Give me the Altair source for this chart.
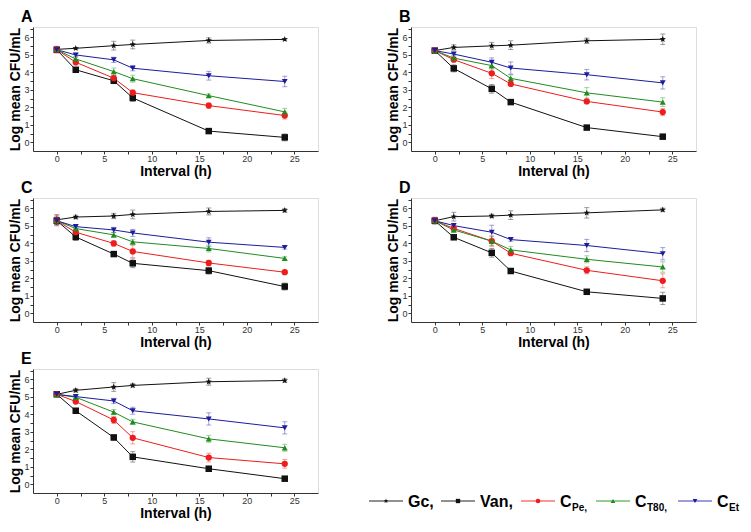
import math
import altair as alt
import pandas as pd

hours = [0, 2, 6, 8, 16, 24]
series = ["Gc", "Van", "CPe", "CT80", "CEt"]

# Panel A
a_vals = {
    "Gc":   [5.32, 5.38, 5.53, 5.60, 5.83, 5.89],
    "Van":  [5.30, 4.15, 3.52, 2.54, 0.64, 0.28],
    "CPe":  [5.30, 4.58, 3.67, 2.84, 2.10, 1.53],
    "CT80": [5.30, 4.77, 4.05, 3.64, 2.67, 1.74],
    "CEt":  [5.30, 5.00, 4.72, 4.24, 3.81, 3.48],
}
a_errs = {
    "Gc":   [0.10, 0.05, 0.25, 0.25, 0.15, 0.05],
    "Van":  [0.10, 0.10, 0.10, 0.20, 0.10, 0.20],
    "CPe":  [0.20, 0.15, 0.15, 0.15, 0.15, 0.20],
    "CT80": [0.10, 0.10, 0.20, 0.20, 0.10, 0.20],
    "CEt":  [0.10, 0.10, 0.15, 0.15, 0.25, 0.30],
}
# Panel B
b_vals = {
    "Gc":   [5.25, 5.43, 5.52, 5.56, 5.81, 5.90],
    "Van":  [5.25, 4.23, 3.06, 2.30, 0.84, 0.32],
    "CPe":  [5.25, 4.73, 3.95, 3.34, 2.34, 1.73],
    "CT80": [5.25, 4.82, 4.39, 3.66, 2.83, 2.30],
    "CEt":  [5.25, 5.05, 4.58, 4.25, 3.87, 3.40],
}
b_errs = {
    "Gc":   [0.10, 0.15, 0.20, 0.25, 0.15, 0.30],
    "Van":  [0.10, 0.20, 0.25, 0.10, 0.10, 0.10],
    "CPe":  [0.10, 0.10, 0.30, 0.10, 0.10, 0.20],
    "CT80": [0.10, 0.10, 0.20, 0.20, 0.30, 0.25],
    "CEt":  [0.10, 0.10, 0.25, 0.35, 0.30, 0.35],
}
# Panel C
c_vals = {
    "Gc":   [5.35, 5.51, 5.57, 5.66, 5.83, 5.89],
    "Van":  [5.30, 4.37, 3.39, 2.86, 2.44, 1.53],
    "CPe":  [5.30, 4.64, 4.00, 3.54, 2.88, 2.35],
    "CT80": [5.30, 4.85, 4.49, 4.09, 3.71, 3.14],
    "CEt":  [5.30, 4.96, 4.77, 4.60, 4.07, 3.77],
}
c_errs = {
    "Gc":   [0.30, 0.10, 0.15, 0.25, 0.20, 0.10],
    "Van":  [0.20, 0.20, 0.10, 0.25, 0.20, 0.20],
    "CPe":  [0.30, 0.15, 0.15, 0.35, 0.15, 0.10],
    "CT80": [0.20, 0.10, 0.15, 0.15, 0.20, 0.10],
    "CEt":  [0.20, 0.10, 0.15, 0.20, 0.25, 0.10],
}
# Panel D
d_vals = {
    "Gc":   [5.30, 5.53, 5.57, 5.62, 5.75, 5.92],
    "Van":  [5.30, 4.35, 3.46, 2.42, 1.23, 0.85],
    "CPe":  [5.30, 4.86, 4.13, 3.44, 2.46, 1.86],
    "CT80": [5.30, 4.77, 4.13, 3.63, 3.09, 2.65],
    "CEt":  [5.30, 5.02, 4.64, 4.22, 3.88, 3.41],
}
d_errs = {
    "Gc":   [0.20, 0.25, 0.10, 0.25, 0.30, 0.10],
    "Van":  [0.10, 0.10, 0.25, 0.10, 0.10, 0.35],
    "CPe":  [0.10, 0.10, 0.30, 0.15, 0.20, 0.40],
    "CT80": [0.10, 0.15, 0.25, 0.20, 0.20, 0.30],
    "CEt":  [0.10, 0.10, 0.40, 0.10, 0.35, 0.35],
}
# Panel E
e_vals = {
    "Gc":   [5.15, 5.38, 5.57, 5.66, 5.87, 5.94],
    "Van":  [5.15, 4.21, 2.68, 1.57, 0.89, 0.32],
    "CPe":  [5.15, 4.74, 3.68, 2.66, 1.53, 1.17],
    "CT80": [5.15, 4.98, 4.13, 3.57, 2.60, 2.09],
    "CEt":  [5.15, 5.02, 4.77, 4.21, 3.74, 3.23],
}
e_errs = {
    "Gc":   [0.10, 0.10, 0.25, 0.10, 0.20, 0.10],
    "Van":  [0.10, 0.05, 0.15, 0.30, 0.10, 0.05],
    "CPe":  [0.10, 0.10, 0.20, 0.35, 0.25, 0.25],
    "CT80": [0.10, 0.10, 0.15, 0.15, 0.20, 0.20],
    "CEt":  [0.10, 0.10, 0.15, 0.20, 0.35, 0.35],
}

x_ticks = [0, 2.5, 5, 7.5, 10, 12.5, 15, 17.5, 20, 22.5, 25]
y_ticks = [0, 0.5, 1, 1.5, 2, 2.5, 3, 3.5, 4, 4.5, 5, 5.5, 6, 6.5]

# styling
colors = ["#111111", "#111111", "#ee1c1c", "#1f8c1f", "#1c1c9c"]
line_colors = ["#222222", "#222222", "#f03030", "#2a9a2a", "#3a3ab8"]
FONT = "Liberation Sans"


def star_path(r_in=0.42):
    pts = []
    for k in range(10):
        r = 1.0 if k % 2 == 0 else r_in
        ang = -math.pi / 2 + k * math.pi / 5
        pts.append(f"{r * math.cos(ang):.3f},{r * math.sin(ang):.3f}")
    return "M" + " L".join(pts) + " Z"


STAR = star_path()
shapes = [STAR, "square", "circle", "triangle-up", "triangle-down"]
sizes = [45, 34, 40, 42, 42]

W, H = 285, 124

x_axis = alt.Axis(
    title="Interval (h)", values=x_ticks,
    labelExpr="datum.value % 5 === 0 ? format(datum.value, 'd') : ''",
    grid=False, tickSize=3, labelFontSize=9, labelPadding=0,
    labelFont=FONT, labelColor="#333333", titleFont=FONT,
    titleFontSize=14, titleFontWeight="bold", titlePadding=1,
    domainColor="#333333", tickColor="#333333", titleColor="#000000",
    labelOverlap=False,
)
y_axis = alt.Axis(
    title="Log mean CFU/mL", values=y_ticks,
    labelExpr="datum.value % 1 === 0 ? format(datum.value, 'd') : ''",
    grid=False, tickSize=3, labelFontSize=9, labelPadding=1,
    labelFont=FONT, labelColor="#333333", titleFont=FONT,
    titleFontSize=14, titleFontWeight="bold", titlePadding=1,
    domainColor="#333333", tickColor="#333333", titleColor="#000000",
    labelOverlap=False,
)
x_scale = alt.Scale(domain=[-2.5, 27.5], nice=False, zero=False)
y_scale = alt.Scale(domain=[-0.5, 6.6], nice=False, zero=False)


def panel(label, vals, errs):
    rows = []
    for s in series:
        for h, v, e in zip(hours, vals[s], errs[s]):
            rows.append({"series": s, "h": h, "v": v, "lo": v - e, "hi": v + e})
    df = pd.DataFrame(rows)
    base = alt.Chart(df)
    X = alt.X("h:Q", scale=x_scale, axis=x_axis)
    col = alt.Color("series:N", scale=alt.Scale(domain=series, range=colors), legend=None)
    err = base.mark_rule(strokeWidth=1, opacity=0.4).encode(
        x=X, y=alt.Y("lo:Q", scale=y_scale, axis=y_axis), y2="hi:Q", color=col)
    cap_hi = base.mark_tick(orient="horizontal", size=5, thickness=1, opacity=0.4).encode(
        x=X, y=alt.Y("hi:Q", scale=y_scale, axis=y_axis), color=col)
    cap_lo = base.mark_tick(orient="horizontal", size=5, thickness=1, opacity=0.4).encode(
        x=X, y=alt.Y("lo:Q", scale=y_scale, axis=y_axis), color=col)
    line = base.mark_line(strokeWidth=1).encode(
        x=X, y=alt.Y("v:Q", scale=y_scale, axis=y_axis), color=col, order="h:Q")
    pts = base.mark_point(filled=True, opacity=1, strokeWidth=0).encode(
        x=X, y=alt.Y("v:Q", scale=y_scale, axis=y_axis), color=col,
        shape=alt.Shape("series:N", scale=alt.Scale(domain=series, range=shapes), legend=None),
        size=alt.Size("series:N", scale=alt.Scale(domain=series, range=sizes), legend=None))
    return alt.layer(err, cap_hi, cap_lo, line, pts).properties(
        width=W, height=H,
        title=alt.TitleParams(label, anchor="start", frame="group", fontSize=16,
                              fontWeight="bold", font=FONT, dx=-12, offset=0,
                              color="#000000"))


# legend (drawn to the right of panel E)
leg_labels = ["Gc,", "Van,", "C", "C", "C"]
leg_subs = ["", "", "Pe,", "T80,", "Et"]
LEG_Y = 132
leg_x0 = [336, 408, 488, 563, 645]


def legend_layers():
    one = pd.DataFrame({"k": [0]})
    layers = []
    for i, s in enumerate(series):
        x0 = leg_x0[i]
        lc = alt.Chart(one).mark_rule(strokeWidth=1, color=line_colors[i]).encode(
            x=alt.value(x0), x2=alt.value(x0 + 34), y=alt.value(LEG_Y))
        pm = alt.Chart(one).mark_point(filled=True, shape=shapes[i], size=sizes[i] * 0.55,
                                       color=colors[i], opacity=1, strokeWidth=0).encode(
            x=alt.value(x0 + 17), y=alt.value(LEG_Y))
        tx = alt.Chart(one).mark_text(align="left", baseline="alphabetic", font=FONT,
                                      fontSize=16, fontWeight="bold", color="#000000").encode(
            x=alt.value(x0 + 39), y=alt.value(LEG_Y + 6), text=alt.value(leg_labels[i]))
        layers += [lc, pm, tx]
        if leg_subs[i]:
            sb = alt.Chart(one).mark_text(align="left", baseline="alphabetic", font=FONT,
                                          fontSize=10, fontWeight="bold", color="#000000").encode(
                x=alt.value(x0 + 51), y=alt.value(LEG_Y + 10), text=alt.value(leg_subs[i]))
            layers.append(sb)
    return layers


pa = panel("A", a_vals, a_errs)
pb = panel("B", b_vals, b_errs)
pc = panel("C", c_vals, c_errs)
pd_ = panel("D", d_vals, d_errs)
pe = panel("E", e_vals, e_errs)
pe = alt.layer(pe, *legend_layers())

row1 = alt.hconcat(pa, pb, spacing=67)
row2 = alt.hconcat(pc, pd_, spacing=67)
chart = alt.vconcat(row1, row2, pe, spacing=0).properties(
    padding={"left": 0, "top": 0, "right": 0, "bottom": 0}
).configure_view(stroke=None).configure(background="white")

chart.save("out.html", embed_options={"renderer": "svg", "actions": False})
